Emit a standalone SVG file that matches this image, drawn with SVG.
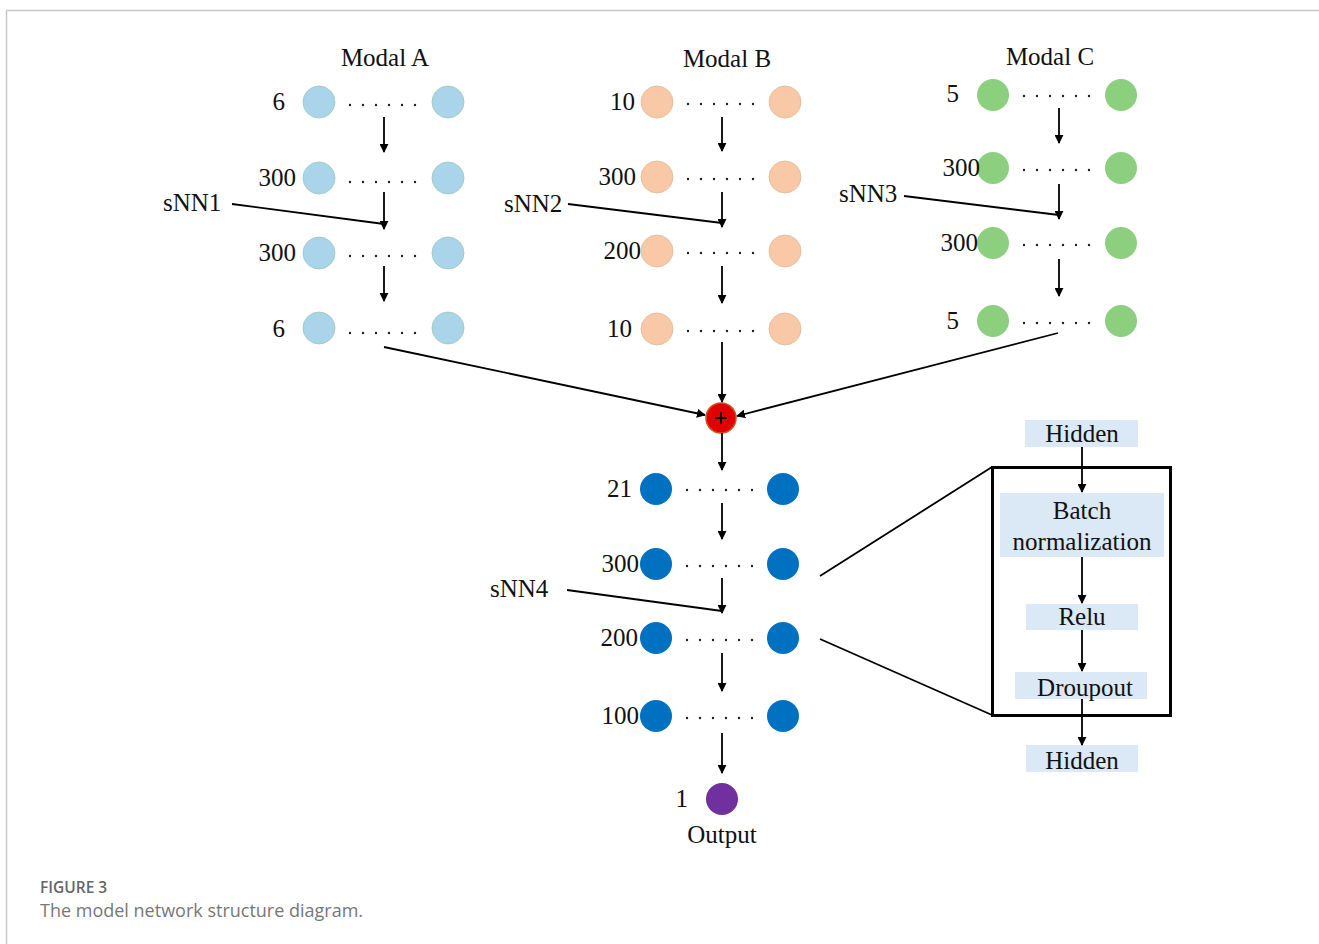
<svg xmlns="http://www.w3.org/2000/svg" width="1319" height="944" viewBox="0 0 1319 944">
<defs>
<marker id="ah" viewBox="0 0 10 10" refX="9" refY="5" markerWidth="9" markerHeight="9" markerUnits="userSpaceOnUse" orient="auto"><path d="M0,0 L10,5 L0,10 z" fill="#000"/></marker>
<style>
.t{font-family:"Liberation Serif","Times New Roman",serif;font-size:25px;fill:#111}
.m{font-family:"Liberation Serif","Times New Roman",serif;font-size:25px;fill:#111;text-anchor:middle}
.n{text-anchor:end}
.a{fill:#a9d4ea;stroke:#9cc7b8;stroke-width:0.8}
.b{fill:#f9c8a7;stroke:#d8bd98;stroke-width:0.8}
.c{fill:#8ccf7e}
.d{fill:#0070c0}
.dots{stroke:#222;stroke-width:2.4;stroke-linecap:round;stroke-dasharray:0 13;fill:none}
.ln{stroke:#000;stroke-width:1.8;fill:none}
.ar{stroke:#000;stroke-width:1.8;fill:none;marker-end:url(#ah)}
.bx{fill:#dbe8f5}
.cap{font-family:"Open Sans","Lato",sans-serif}
</style>
</defs>
<rect width="1319" height="944" fill="#fff"/>
<path d="M6.5,944 V10.5 H1319" fill="none" stroke="#c8c8c8" stroke-width="1.5"/>

<text class="m" x="385" y="66">Modal A</text>
<text class="m" x="727" y="67">Modal B</text>
<text class="m" x="1050" y="65">Modal C</text>

<g id="modalA">
<circle class="a" cx="319" cy="102" r="16"/><circle class="a" cx="448" cy="102" r="16"/><path class="dots" d="M350,105 H416"/><text class="t n" x="285" y="110">6</text>
<circle class="a" cx="319" cy="178" r="16"/><circle class="a" cx="448" cy="178" r="16"/><path class="dots" d="M350,182 H416"/><text class="t n" x="296" y="186">300</text>
<circle class="a" cx="319" cy="253" r="16"/><circle class="a" cx="448" cy="253" r="16"/><path class="dots" d="M350,256 H416"/><text class="t n" x="296" y="261">300</text>
<circle class="a" cx="319" cy="328" r="16"/><circle class="a" cx="448" cy="328" r="16"/><path class="dots" d="M350,333 H416"/><text class="t n" x="285" y="337">6</text>
<text class="t" x="163" y="211">sNN1</text>
</g>

<g id="modalB">
<circle class="b" cx="657" cy="102" r="16"/><circle class="b" cx="785" cy="102" r="16"/><path class="dots" d="M688,104 H754"/><text class="t n" x="635" y="110">10</text>
<circle class="b" cx="657" cy="177" r="16"/><circle class="b" cx="785" cy="177" r="16"/><path class="dots" d="M688,179 H754"/><text class="t n" x="636" y="185">300</text>
<circle class="b" cx="657" cy="251" r="16"/><circle class="b" cx="785" cy="251" r="16"/><path class="dots" d="M688,253 H754"/><text class="t n" x="641" y="259">200</text>
<circle class="b" cx="657" cy="329" r="16"/><circle class="b" cx="785" cy="329" r="16"/><path class="dots" d="M688,331 H754"/><text class="t n" x="632" y="337">10</text>
<text class="t" x="504" y="212">sNN2</text>
</g>

<g id="modalC">
<circle class="c" cx="993" cy="95" r="16"/><circle class="c" cx="1121" cy="95" r="16"/><path class="dots" d="M1024,96 H1090"/><text class="t n" x="959" y="102">5</text>
<circle class="c" cx="993" cy="168" r="16"/><circle class="c" cx="1121" cy="168" r="16"/><path class="dots" d="M1024,170 H1090"/><text class="t n" x="980" y="176">300</text>
<circle class="c" cx="993" cy="243" r="16"/><circle class="c" cx="1121" cy="243" r="16"/><path class="dots" d="M1024,245 H1090"/><text class="t n" x="978" y="251">300</text>
<circle class="c" cx="993" cy="321" r="16"/><circle class="c" cx="1121" cy="321" r="16"/><path class="dots" d="M1024,323 H1090"/><text class="t n" x="959" y="329">5</text>
<text class="t" x="839" y="202">sNN3</text>
</g>

<g id="merge">
<circle cx="721" cy="418" r="15" fill="#e00000" stroke="#d05020" stroke-width="1.5"/>
<path d="M715,418 H727 M721,412 V424" stroke="#000" stroke-width="1.8"/>
</g>

<g id="fused">
<circle class="d" cx="656" cy="489" r="16"/><circle class="d" cx="783" cy="489" r="16"/><path class="dots" d="M687,490 H753"/><text class="t n" x="632" y="497">21</text>
<circle class="d" cx="656" cy="564" r="16"/><circle class="d" cx="783" cy="564" r="16"/><path class="dots" d="M687,566 H753"/><text class="t n" x="639" y="572">300</text>
<circle class="d" cx="656" cy="638" r="16"/><circle class="d" cx="783" cy="638" r="16"/><path class="dots" d="M687,640 H753"/><text class="t n" x="638" y="646">200</text>
<circle class="d" cx="656" cy="716" r="16"/><circle class="d" cx="783" cy="716" r="16"/><path class="dots" d="M687,718 H753"/><text class="t n" x="639" y="724">100</text>
<text class="t" x="490" y="597">sNN4</text>
</g>

<g id="output">
<circle cx="722" cy="799" r="16" fill="#7030a0"/>
<text class="t n" x="688" y="807">1</text>
<text class="m" x="722" y="843">Output</text>
</g>

<g id="detail">
<rect x="992.5" y="467.5" width="178" height="248" fill="none" stroke="#000" stroke-width="3"/>
<rect class="bx" x="1025" y="420" width="113" height="27"/><text class="m" x="1082" y="442">Hidden</text>
<rect class="bx" x="1000" y="493" width="164" height="64"/><text class="m" x="1082" y="519">Batch</text><text class="m" x="1082" y="550">normalization</text>
<rect class="bx" x="1026" y="604" width="112" height="26"/><text class="m" x="1082" y="625">Relu</text>
<rect class="bx" x="1015" y="672" width="132" height="27"/><text class="m" x="1085" y="696">Droupout</text>
<rect class="bx" x="1026" y="745" width="112" height="27"/><text class="m" x="1082" y="769">Hidden</text>
</g>

<g id="connectors">
<path class="ar" d="M384,117 V152"/>
<path class="ar" d="M384,192 V229"/>
<path class="ar" d="M384,266 V301"/>
<path class="ln" d="M232,204 L384,224"/>
<path class="ar" d="M722,117 V151"/>
<path class="ar" d="M722,192 V227"/>
<path class="ar" d="M722,266 V303"/>
<path class="ln" d="M568,204 L722,223"/>
<path class="ar" d="M1059,108 V143"/>
<path class="ar" d="M1059,184 V219"/>
<path class="ar" d="M1059,259 V296"/>
<path class="ln" d="M904,196 L1059,215"/>
<path class="ar" d="M384,347 L705,415"/>
<path class="ar" d="M722,342 V402"/>
<path class="ar" d="M1058,333 L737,416"/>
<path class="ar" d="M722,433 V470"/>
<path class="ar" d="M722,503 V539"/>
<path class="ar" d="M722,578 V613"/>
<path class="ln" d="M567,590 L722,611"/>
<path class="ar" d="M722,653 V691"/>
<path class="ar" d="M722,733 V773"/>
<path class="ln" d="M820,576 L992,467 M820,639 L992,715"/>
<path class="ar" d="M1082,447 V492"/>
<path class="ar" d="M1082,557 V603"/>
<path class="ar" d="M1082,630 V671"/>
<path class="ar" d="M1082,699 V745"/>
</g>

<text class="cap" x="40" y="893" font-size="15.5" font-weight="600" fill="#666">FIGURE 3</text>
<text class="cap" x="40" y="917" font-size="18" fill="#777">The model network structure diagram.</text>
</svg>
